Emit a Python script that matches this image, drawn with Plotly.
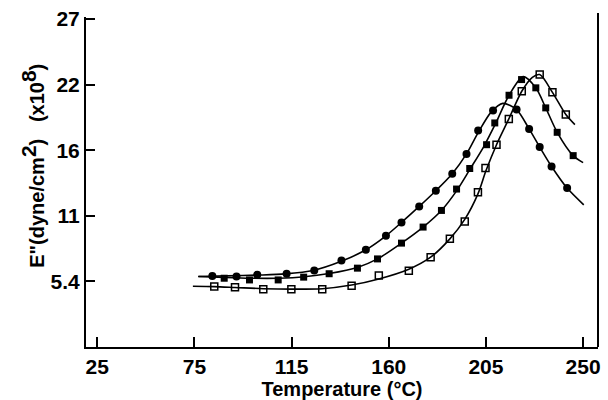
import plotly.graph_objects as go

# ---- data (temperature in the axis' linear units, E'' in 1e8 dyne/cm^2) ----
x_ticks = [25, 70, 115, 160, 205, 250]
x_ticktext = ["25", "75", "115", "160", "205", "250"]
y_ticks = [5.4, 10.8, 16.2, 21.6, 27.0]
y_ticktext = ["5.4", "11", "16", "22", "27"]

# filled circles (markers)
circ_x = [78.3, 89.5, 99.1, 112.7, 125.5, 138.1, 149.4, 158.7, 165.9, 174.1, 181.8,
          189.4, 196.0, 201.4, 208.3, 219.2, 225.0, 229.9, 235.4, 242.6]
circ_y = [5.85, 5.80, 5.94, 6.02, 6.29, 7.11, 8.0, 9.15, 10.25, 11.57, 12.86,
          14.26, 15.89, 17.81, 19.46, 19.54, 17.95, 16.46, 14.86, 13.08]
# fitted curve through circles
circ_fit_x = [71.7, 85, 100, 112, 125, 138, 149.4, 158.7, 165.9, 174.1, 181.8,
              189.4, 196.0, 201.4, 207.5, 212.8, 219.2, 225.0, 229.9, 235.4, 242.6, 250.3]
circ_fit_y = [5.80, 5.85, 5.92, 6.02, 6.30, 7.05, 8.0, 9.15, 10.25, 11.57, 12.86,
              14.26, 15.89, 17.65, 19.35, 20.05, 19.54, 17.95, 16.46, 14.86, 13.08, 11.7]

# filled squares (markers)
sq_x = [83.8, 95.5, 108.8, 120.6, 132.4, 145.5, 154.8, 165.9, 175.9, 184.4, 191.4,
        197.5, 205.3, 209.1, 215.7, 221.5, 228.1, 232.7, 238.0, 245.4]
sq_y = [5.66, 5.52, 5.52, 5.75, 6.03, 6.49, 7.25, 8.55, 9.87, 11.24, 13.0,
        14.69, 16.65, 18.44, 20.72, 22.01, 21.33, 19.68, 17.67, 15.75]
sq_fit_x = [72.0, 84, 96, 109, 121, 132.4, 145.5, 154.8, 165.9, 175.9, 184.4, 191.4,
            197.5, 204.0, 209.5, 215.7, 222.3, 228.1, 232.7, 238.0, 245.4, 250.0]
sq_fit_y = [5.80, 5.72, 5.66, 5.66, 5.78, 6.05, 6.55, 7.25, 8.55, 9.87, 11.24, 12.85,
            14.6, 16.5, 18.4, 20.72, 22.25, 21.33, 19.68, 17.67, 15.75, 15.17]

# open squares (markers)
osq_x = [79.2, 88.8, 101.9, 114.9, 129.2, 142.8, 155.4, 169.3, 179.4, 188.3, 195.2,
         201.3, 204.8, 209.9, 215.6, 221.6, 229.9, 235.8, 242.0]
osq_y = [4.97, 4.92, 4.76, 4.76, 4.76, 5.05, 5.89, 6.27, 7.39, 8.90, 10.33,
         12.74, 14.73, 16.65, 18.77, 21.05, 22.42, 20.96, 19.13]
osq_fit_x = [69.3, 79.2, 88.8, 101.9, 114.9, 129.2, 142.8, 155.4, 169.3, 179.4, 188.3, 195.2,
             201.3, 205.0, 209.9, 215.6, 221.6, 226.5, 229.9, 235.8, 242.0, 246.2]
osq_fit_y = [5.0, 4.97, 4.90, 4.80, 4.76, 4.80, 5.10, 5.60, 6.40, 7.39, 8.90, 10.5,
             12.6, 14.5, 16.65, 18.77, 21.05, 22.2, 22.42, 20.96, 19.13, 18.3]

FONT = "Liberation Sans, Arial, sans-serif"

fig = go.Figure()

line_style = dict(color="black", width=1.6, shape="spline", smoothing=0.8)
for fx, fy in [(circ_fit_x, circ_fit_y), (sq_fit_x, sq_fit_y), (osq_fit_x, osq_fit_y)]:
    fig.add_trace(go.Scatter(x=fx, y=fy, mode="lines", line=line_style,
                             hoverinfo="skip", showlegend=False))

fig.add_trace(go.Scatter(x=circ_x, y=circ_y, mode="markers", showlegend=False,
                         marker=dict(symbol="circle", size=8, color="black")))
fig.add_trace(go.Scatter(x=sq_x, y=sq_y, mode="markers", showlegend=False,
                         marker=dict(symbol="square", size=7, color="black")))
fig.add_trace(go.Scatter(x=osq_x, y=osq_y, mode="markers", showlegend=False,
                         marker=dict(symbol="square-open", size=7, color="black",
                                     line=dict(width=1.5, color="black"))))

tick_font = dict(family=FONT, size=21, color="black")

fig.update_xaxes(range=[19.8, 256.9], tickvals=x_ticks, automargin=False,
                 ticktext=["<b>%s</b>" % t for t in x_ticktext],
                 ticks="inside", ticklen=10, tickwidth=2, tickcolor="black",
                 showline=True, linewidth=2, linecolor="black", showgrid=False,
                 zeroline=False, tickfont=tick_font,
                 title=dict(text="<b>Temperature (°C)</b>", standoff=4,
                            font=dict(family=FONT, size=20, color="black")))
fig.update_yaxes(range=[0, 27.16], tickvals=y_ticks, automargin=False,
                 ticktext=["<b>%s</b>" % t for t in y_ticktext],
                 ticks="inside", ticklen=9, tickwidth=2, tickcolor="black",
                 showline=True, linewidth=2, linecolor="black", showgrid=False,
                 zeroline=False, tickfont=tick_font)

fig.update_layout(
    width=608, height=400,
    margin=dict(l=86, r=10, t=17, b=53),
    plot_bgcolor="white", paper_bgcolor="white",
    font=dict(family=FONT, color="black"),
    shapes=[dict(type="line", xref="paper", yref="paper", x0=1, x1=1, y0=0, y1=1.012,
                 line=dict(color="black", width=2))],
    annotations=[dict(
        text=("<b>E\"(dyne/cm<sup><span style='font-size:21px'>2</span></sup>)"
              "\u00a0\u00a0\u00a0(x10<sup><span style='font-size:21px'>8</span></sup>)</b>"),
        textangle=-90, xref="paper", yref="paper", x=-0.105, y=0.55,
        xanchor="center", yanchor="middle", showarrow=False,
        font=dict(family=FONT, size=20, color="black"))],
)

fig.write_html("out.html")
